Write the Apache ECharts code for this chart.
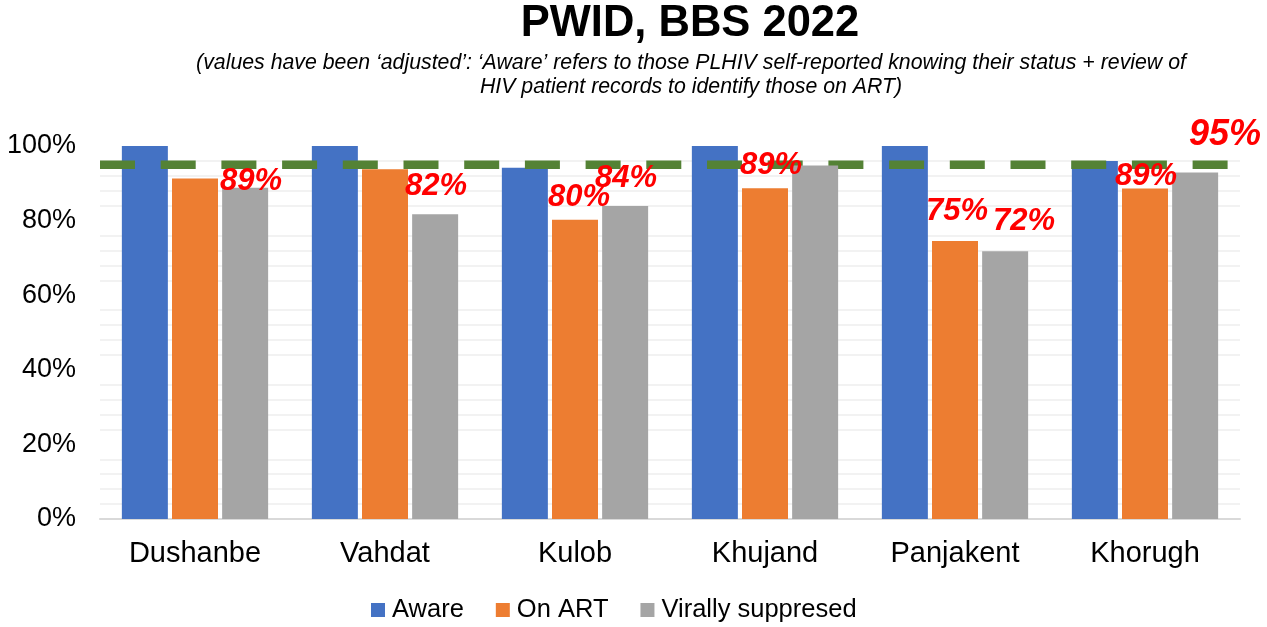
<!DOCTYPE html>
<html>
<head>
<meta charset="utf-8">
<script src="https://cdn.jsdelivr.net/npm/echarts@6/dist/echarts.min.js"></script>
<style>
html,body{margin:0;padding:0;background:#fff;}
#chart{width:1267px;height:627px;}
</style>
</head>
<body>
<div id="chart"></div>
<script>
const categories = ['Dushanbe', 'Vahdat', 'Kulob', 'Khujand', 'Panjakent', 'Khorugh'];
const seriesNames = ['Aware', 'On ART', 'Virally suppresed'];
const aware = [100, 100, 94.2, 100, 100, 96];
const onArt = [91.3, 93.8, 80.2, 88.7, 74.5, 88.6];
const virallySuppressed = [88.8, 81.7, 83.9, 94.8, 71.8, 92.9];
const labelledOnArt = [false, false, true, true, true, true];
const labelledSuppressed = [true, true, true, false, true, false];
const target = 95;
const yTicks = [0, 20, 40, 60, 80, 100];
const titleText = 'PWID, BBS 2022';
const subtitleText = '(values have been \u2018adjusted\u2019: \u2018Aware\u2019 refers to those PLHIV self-reported knowing their status + review of\nHIV patient records to identify those on ART)';

// label placement nudges (pixels, styling only) as hand-placed in the original
const nudgeOnArt = [[0, 0], [0, 0], [4, 2], [6, 2], [2, -5], [1, 12]];
const nudgeSuppressed = [[6, 18], [1, -3], [1, -3], [0, 0], [19, -5], [0, 0]];

const FONT = '"Liberation Sans", Arial, sans-serif';
const colors = ['#4472C4', '#ED7D31', '#A5A5A5'];

function labelStyle(nudge) {
  return {
    show: true,
    position: 'top',
    distance: 9,
    offset: nudge,
    color: '#FF0000',
    fontFamily: FONT,
    fontSize: 31,
    fontWeight: 'bold',
    fontStyle: 'italic',
    formatter: p => Math.round(p.value) + '%'
  };
}

function withLabels(values, flags, nudges) {
  return values.map((v, i) => ({
    value: v,
    label: flags[i] ? labelStyle(nudges[i]) : { show: false }
  }));
}

const chart = echarts.init(document.getElementById('chart'), null, { renderer: 'canvas' });
chart.setOption({
  animation: false,
  color: colors,
  title: [
    {
      text: titleText,
      left: 685,
      top: -3,
      textAlign: 'center',
      textStyle: { fontFamily: FONT, fontSize: 43.5, fontWeight: 'bold', color: '#000' }
    },
    {
      text: subtitleText,
      left: 686,
      top: 46,
      textAlign: 'center',
      textStyle: { fontFamily: FONT, fontSize: 21.3, fontStyle: 'italic', fontWeight: 'normal', color: '#000', lineHeight: 24 }
    }
  ],
  legend: {
    data: seriesNames,
    left: 371,
    top: 597,
    padding: 0,
    itemWidth: 14,
    itemHeight: 14,
    itemGap: 32,
    icon: 'rect',
    textStyle: { fontFamily: FONT, fontSize: 25.5, color: '#000', padding: [0, 0, 0, 2] }
  },
  grid: { left: 100, right: 27, top: 146, bottom: 108, containLabel: false },
  xAxis: [
    {
      type: 'category',
      data: categories,
      axisLine: { show: true, lineStyle: { color: '#D9D9D9', width: 2 } },
      axisTick: { show: false },
      axisLabel: { fontFamily: FONT, fontSize: 29, color: '#000', margin: 20 }
    },
    {
      type: 'value',
      min: 0,
      max: 1,
      show: false
    }
  ],
  yAxis: {
    type: 'value',
    min: yTicks[0],
    max: yTicks[yTicks.length - 1],
    interval: 20,
    axisLine: { show: false },
    axisTick: { show: false },
    splitLine: { show: false },
    minorTick: { show: false, splitNumber: 5 },
    minorSplitLine: { show: true, lineStyle: { color: '#F2F2F2', width: 2 } },
    axisLabel: { fontFamily: FONT, fontSize: 27, color: '#000', margin: 24, formatter: '{value}%' }
  },
  series: [
    {
      name: seriesNames[0],
      type: 'bar',
      data: aware,
      z: 1,
      barWidth: 46,
      barGap: '9%',
      itemStyle: { color: colors[0] }
    },
    {
      name: seriesNames[1],
      type: 'bar',
      data: withLabels(onArt, labelledOnArt, nudgeOnArt),
      z: 4,
      barWidth: 46,
      barGap: '9%',
      itemStyle: { color: colors[1] }
    },
    {
      name: seriesNames[2],
      type: 'bar',
      data: withLabels(virallySuppressed, labelledSuppressed, nudgeSuppressed),
      z: 4,
      barWidth: 46,
      barGap: '9%',
      itemStyle: { color: colors[2] }
    },
    {
      name: 'Target',
      type: 'line',
      xAxisIndex: 1,
      data: [[0, target], [1, target]],
      z: 2,
      silent: true,
      showSymbol: false,
      symbol: 'none',
      lineStyle: { color: '#548235', width: 8.5, type: [35, 25.7], cap: 'butt' },
      endLabel: {
        show: true,
        formatter: () => target + '%',
        offset: [-59, -30],
        color: '#FF0000',
        fontFamily: FONT,
        fontSize: 36,
        fontWeight: 'bold',
        fontStyle: 'italic'
      }
    }
  ]
});
</script>
</body>
</html>
